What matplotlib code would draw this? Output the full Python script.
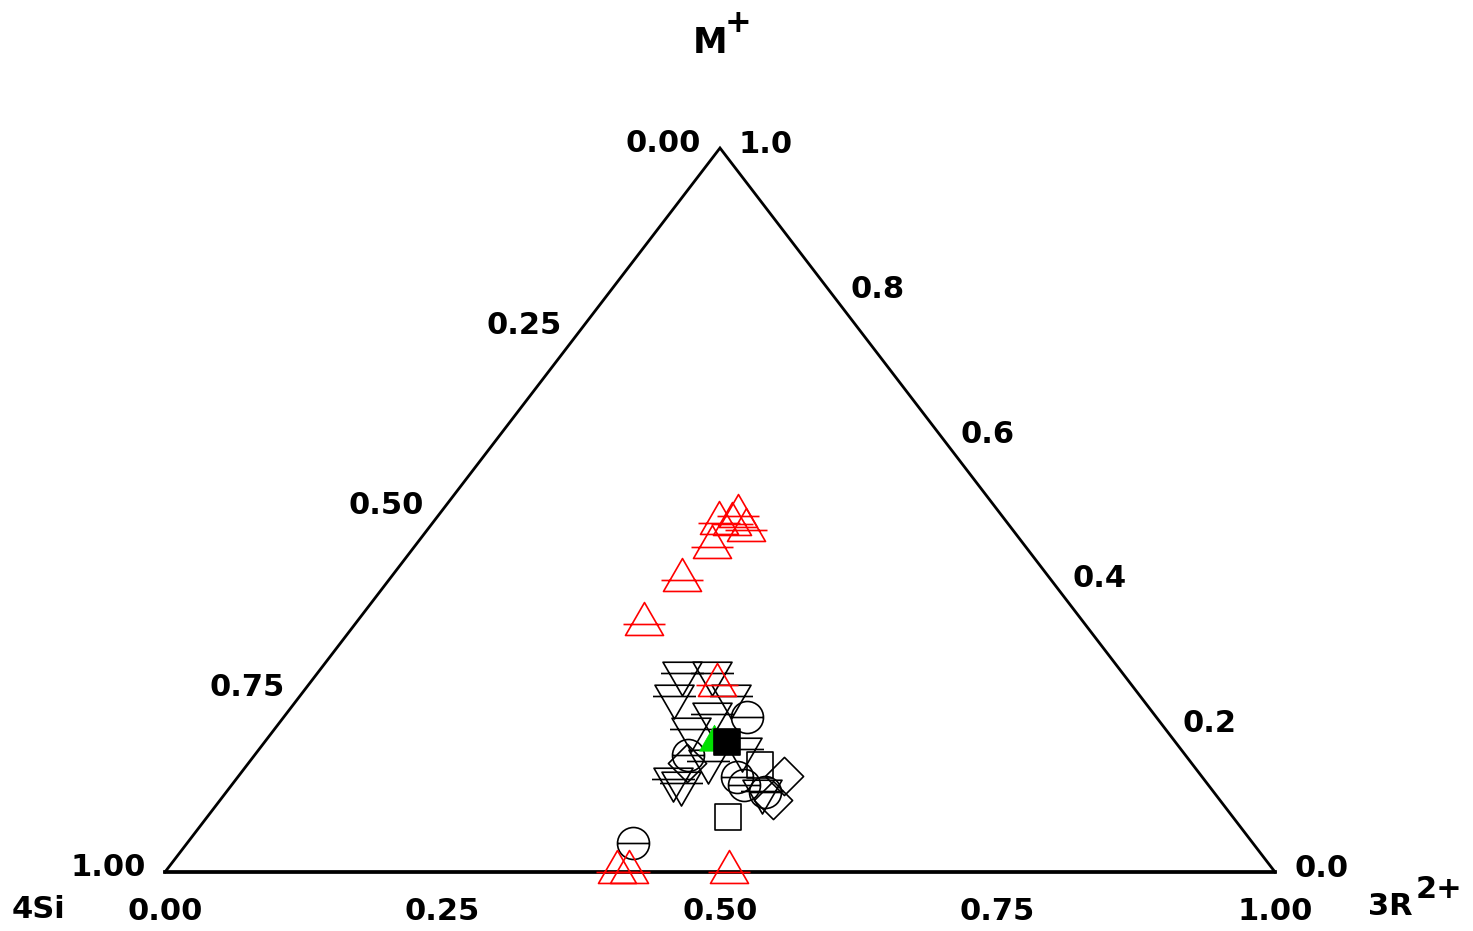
import numpy as np
import matplotlib
matplotlib.use("Agg")
import matplotlib.pyplot as plt
from matplotlib.path import Path

# ---- compositions: fractions of M+ and 3R2+ (4Si = 1 - M - 3R) ----
# red open triangles
red_m = [0.343, 0.403, 0.449, 0.482, 0.481, 0.492, 0.472, 0.258, 0.000, 0.000, 0.000]
red_r = [0.260, 0.264, 0.268, 0.258, 0.270, 0.270, 0.287, 0.368, 0.407, 0.418, 0.508]

# open inverted triangles
dn_m = [0.275, 0.275, 0.243, 0.243, 0.218, 0.198, 0.129, 0.123, 0.153, 0.112, 0.170]
dn_r = [0.328, 0.355, 0.337, 0.388, 0.384, 0.375, 0.393, 0.403, 0.413, 0.482, 0.435]

# open circles
ci_m = [0.040, 0.214, 0.162, 0.131, 0.120, 0.111]
ci_r = [0.402, 0.417, 0.390, 0.450, 0.462, 0.485]

# open squares
sq_m = [0.076, 0.148]
sq_r = [0.469, 0.462]

# open diamonds
di_m = [0.133, 0.099, 0.151]
di_r = [0.491, 0.498, 0.395]

# filled green triangle and filled black square
gr_m = [0.180]
gr_r = [0.405]
bk_m = [0.180]
bk_r = [0.416]

# axis tick values
left_ticks = [1.00, 0.75, 0.50, 0.25, 0.00]
right_ticks = [0.0, 0.2, 0.4, 0.6, 0.8, 1.0]
bottom_ticks = [0.00, 0.25, 0.50, 0.75, 1.00]

DPI = 100
W, H = 1473, 931
PT = 72.0 / DPI  # points per pixel

plt.rcParams['font.family'] = ['DejaVu Sans']
plt.rcParams['font.weight'] = 'bold'

fig = plt.figure(figsize=(W / DPI, H / DPI), dpi=DPI)
fig.patch.set_facecolor('white')
ax = fig.add_axes([165 / W, (H - 872) / H, 1110 / W, 724 / H])
ax.set_xlim(0, 1)
ax.set_ylim(0, 1)
ax.axis('off')


def to_xy(m, r):
    m = np.asarray(m, float)
    r = np.asarray(r, float)
    return r + m / 2.0, m


# ---- triangle frame ----
ax.plot([0, 0.5, 1], [0, 1, 0], color='black', lw=2.0, clip_on=False,
        solid_joinstyle='miter', zorder=2)
ax.plot([0, 1], [0, 0], color='black', lw=2.7, clip_on=False, zorder=2)


# ---- marker shapes (pixel units) ----
def tri_marker(side, bar, up=True):
    h = side * np.sqrt(3) / 2
    s = 1 if up else -1
    verts = [(0, s * 2 * h / 3), (-side / 2, -s * h / 3), (side / 2, -s * h / 3),
             (0, s * 2 * h / 3)]
    codes = [Path.MOVETO, Path.LINETO, Path.LINETO, Path.CLOSEPOLY]
    if bar:
        verts += [(-bar / 2, 0), (bar / 2, 0)]
        codes += [Path.MOVETO, Path.LINETO]
    return Path(verts, codes)


def circle_marker(rad):
    c = Path.unit_circle()
    verts = list(c.vertices * rad) + [(-rad, 0), (rad, 0)]
    codes = list(c.codes) + [Path.MOVETO, Path.LINETO]
    return Path(verts, codes)


def square_marker(side, angle=0):
    a = side / 2
    pts = np.array([(-a, -a), (a, -a), (a, a), (-a, a), (-a, -a)])
    t = np.deg2rad(angle)
    rot = np.array([[np.cos(t), -np.sin(t)], [np.sin(t), np.cos(t)]])
    pts = pts @ rot.T
    codes = [Path.MOVETO, Path.LINETO, Path.LINETO, Path.LINETO, Path.CLOSEPOLY]
    return Path(pts, codes)


def msize(path):
    return 2 * np.max(np.abs(path.vertices)) * PT


def draw(m, r, path, edge, face='none', ew=1.2, z=3):
    x, y = to_xy(m, r)
    ax.plot(x, y, linestyle='none', marker=path, markersize=msize(path),
            markeredgecolor=edge, markerfacecolor=face, markeredgewidth=ew,
            clip_on=False, zorder=z)


up_red = tri_marker(38, 42, up=True)
down_blk = tri_marker(39, 43, up=False)
circ = circle_marker(16)
sq = square_marker(27)
dia = square_marker(27, 45)
green_tri = tri_marker(30, None, up=True)

draw(dn_m, dn_r, down_blk, 'black')
draw(ci_m, ci_r, circ, 'black')
draw(sq_m, sq_r, sq, 'black')
draw(di_m, di_r, dia, 'black')
draw(red_m, red_r, up_red, '#ff0000', z=4)
draw(gr_m, gr_r, green_tri, '#00e000', face='#00e000', ew=0.5, z=5)
draw(bk_m, bk_r, sq, 'black', face='black', z=6)

# ---- tick labels ----
fs = 22
for f in left_ticks:
    x, y = to_xy(1 - f, 0)
    ax.annotate(f"{f:.2f}", (x, y), xytext=(-19 * PT, -4.5 * PT),
                textcoords='offset points', ha='right', va='baseline',
                fontsize=fs, fontweight='bold', annotation_clip=False)
for mv in right_ticks:
    x, y = to_xy(mv, 1 - mv)
    ax.annotate(f"{mv:.1f}", (x, y), xytext=(19 * PT, -5 * PT),
                textcoords='offset points', ha='left', va='baseline',
                fontsize=fs, fontweight='bold', annotation_clip=False)
for rv in bottom_ticks:
    x, y = to_xy(0, rv)
    ax.annotate(f"{rv:.2f}", (x, y), xytext=(0, -48 * PT),
                textcoords='offset points', ha='center', va='baseline',
                fontsize=fs, fontweight='bold', annotation_clip=False)


# ---- vertex labels ----
def ftext(px, py, s, size, ha='left', va='baseline'):
    fig.text(px / W, 1 - py / H, s, ha=ha, va=va, fontsize=size,
             fontweight='bold')


ftext(12, 918, "4Si", fs)
ftext(710, 53, "M", 25, ha='center')
ftext(738, 24, "+", 23, ha='center', va='center')
ftext(1368, 915, "3R", fs)
ftext(1416, 898, "2+", fs)

fig.savefig("out.png", dpi=DPI, facecolor='white')
